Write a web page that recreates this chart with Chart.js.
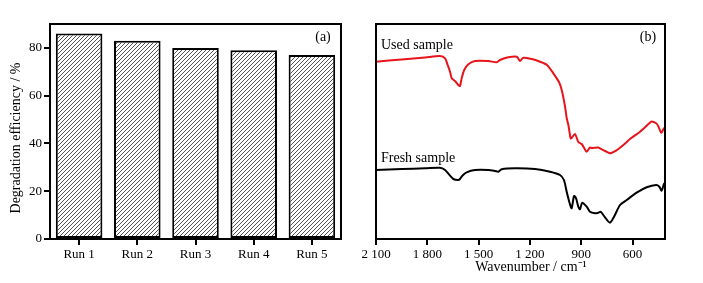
<!DOCTYPE html>
<html>
<head>
<meta charset="utf-8">
<script src="https://cdn.jsdelivr.net/npm/chart.js@4/dist/chart.umd.min.js"></script>
<style>
  html, body { margin: 0; padding: 0; background: #fff; }
  #wrap { position: relative; width: 703px; height: 283px; overflow: hidden; }
  #c1 { position: absolute; left: 0; top: 0; }
  #c2 { position: absolute; left: 350px; top: 0; }
</style>
</head>
<body>
<div id="wrap">
  <canvas id="c1" width="350" height="283"></canvas>
  <canvas id="c2" width="353" height="283"></canvas>
</div>
<script>
// ---------- Panel (a) data ----------
const runs = ['Run 1', 'Run 2', 'Run 3', 'Run 4', 'Run 5'];
const efficiency = [86, 83, 80, 79, 77];
const effTicks = [0, 20, 40, 60, 80];

// ---------- Panel (b) data (wavenumber, relative transmittance, a.u.) ----------
const usedWn = [2100, 1950, 1813, 1726, 1696, 1681, 1667, 1657, 1638, 1619, 1609, 1599, 1584, 1560, 1521, 1443, 1394, 1375, 1326, 1277, 1258, 1239, 1189, 1141, 1100, 1063, 1030, 1014, 995, 985, 975, 962, 956, 936, 917, 897, 868, 849, 839, 800, 790, 760, 732, 700, 673, 640, 615, 556, 498, 488, 462, 450, 435, 430, 416, 410];
const usedT  = [177.3, 179.5, 181.5, 183, 180.7, 174, 167.3, 160.7, 158, 154, 153, 160.7, 169, 174.7, 178, 178, 176.7, 179, 181.7, 182.3, 178, 181.3, 180, 177.3, 174, 165.7, 157, 149, 133, 121, 114, 100.7, 101, 105, 97, 95, 87.3, 91.5, 91, 91.5, 90.7, 88, 85.7, 88, 91.2, 96, 100, 107.3, 116.3, 117.5, 115.7, 113, 107, 106.3, 110.7, 111];
const freshWn = [2100, 1950, 1813, 1726, 1696, 1667, 1648, 1619, 1609, 1595, 1570, 1521, 1443, 1404, 1385, 1365, 1287, 1170, 1082, 1024, 1001, 985, 970, 956, 942, 930, 917, 907, 894, 868, 849, 819, 800, 786, 761, 732, 708, 673, 634, 576, 517, 462, 443, 430, 416, 410];
const freshT  = [69, 70, 70.7, 71.3, 69, 63.3, 60, 59, 60, 63.3, 66.7, 69, 69, 68, 67.3, 69.7, 70.7, 70, 67.3, 64, 59, 47.3, 37.3, 30.7, 43, 40.7, 32.3, 29.7, 36.3, 32.3, 27.3, 25.7, 26.3, 27.3, 21.7, 16.3, 22.3, 34, 39, 46.3, 51.7, 54, 52.3, 48.3, 55, 56];
const wnTicks = [2100, 1800, 1500, 1200, 900, 600];

const SERIF = '"Liberation Serif", "Times New Roman", serif';

// hatch pattern
function makeHatch() {
  const s = 4;
  const p = document.createElement('canvas');
  p.width = s; p.height = s;
  const g = p.getContext('2d');
  g.fillStyle = '#fff';
  g.fillRect(0, 0, s, s);
  g.strokeStyle = '#555';
  g.lineWidth = 1;
  g.beginPath();
  g.moveTo(-1, s + 1); g.lineTo(s + 1, -1);
  g.moveTo(-1, 1); g.lineTo(1, -1);
  g.moveTo(s - 1, s + 1); g.lineTo(s + 1, s - 1);
  g.stroke();
  return document.getElementById('c1').getContext('2d').createPattern(p, 'repeat');
}

const framePlugin = {
  id: 'frame',
  afterDraw(chart, args, opts) {
    const { ctx, chartArea: a } = chart;
    ctx.save();
    ctx.strokeStyle = '#000';
    ctx.lineWidth = 2;
    ctx.strokeRect(a.left, a.top, a.right - a.left, a.bottom - a.top);
    ctx.fillStyle = '#000';
    ctx.textBaseline = 'middle';
    (opts.texts || []).forEach(t => {
      ctx.save();
      ctx.font = t.font;
      ctx.textAlign = t.align || 'left';
      ctx.translate(t.x, t.y);
      if (t.rot) ctx.rotate(t.rot);
      ctx.fillText(t.text, 0, 0);
      ctx.restore();
    });
    ctx.restore();
  }
};

// ---------- Chart (a) ----------
new Chart(document.getElementById('c1'), {
  type: 'bar',
  data: {
    labels: runs,
    datasets: [{
      data: efficiency,
      backgroundColor: makeHatch(),
      borderColor: '#000',
      borderWidth: 2,
      borderSkipped: false,
      barPercentage: 0.8,
      categoryPercentage: 1.0
    }]
  },
  options: {
    responsive: false,
    devicePixelRatio: 1,
    animation: false,
    layout: { padding: { left: 0, top: 24, right: 9, bottom: 0 } },
    plugins: {
      legend: { display: false },
      tooltip: { enabled: false },
      frame: {
        texts: [
          { text: '(a)', x: 323, y: 37, font: '14px ' + SERIF, align: 'center' },
          { text: 'Degradation efficiency / %', x: 16, y: 138, font: '14px ' + SERIF, align: 'center', rot: -Math.PI / 2 }
        ]
      }
    },
    scales: {
      x: {
        grid: { display: true, drawOnChartArea: false, offset: false, color: '#000', lineWidth: 2, tickLength: 6 },
        border: { display: true, color: '#000', width: 2 },
        ticks: { color: '#000', font: { family: SERIF, size: 13 }, padding: 2 },
        afterFit(s) { s.height = 44; }
      },
      y: {
        min: 0, max: 90,
        afterBuildTicks(s) { s.ticks = effTicks.map(v => ({ value: v })); },
        grid: { display: true, drawOnChartArea: false, color: '#000', lineWidth: 2, tickLength: 6 },
        border: { display: true, color: '#000', width: 2 },
        ticks: { color: '#000', font: { family: SERIF, size: 13 }, padding: 2 },
        afterFit(s) { s.width = 50; }
      }
    }
  },
  plugins: [framePlugin]
});

// ---------- Chart (b) ----------
const toPts = (xs, ys) => xs.map((x, i) => ({ x: x, y: ys[i] }));
new Chart(document.getElementById('c2'), {
  type: 'line',
  data: {
    datasets: [
      { label: 'Used sample', data: toPts(usedWn, usedT), borderColor: '#e8141b', borderWidth: 2, pointRadius: 0, tension: 0.25, fill: false },
      { label: 'Fresh sample', data: toPts(freshWn, freshT), borderColor: '#000', borderWidth: 2, pointRadius: 0, tension: 0.25, fill: false }
    ]
  },
  options: {
    responsive: false,
    devicePixelRatio: 1,
    animation: false,
    layout: { padding: { left: 26, top: 24, right: 38, bottom: 0 } },
    plugins: {
      legend: { display: false },
      tooltip: { enabled: false },
      frame: {
        texts: [
          { text: '(b)', x: 298, y: 37, font: '14px ' + SERIF, align: 'center' },
          { text: 'Used sample', x: 31, y: 45, font: '14px ' + SERIF, align: 'left' },
          { text: 'Fresh sample', x: 31, y: 158, font: '14px ' + SERIF, align: 'left' },
          { text: 'Wavenumber / cm\u207B\u00B9', x: 181, y: 267, font: '14px ' + SERIF, align: 'center' }
        ]
      }
    },
    scales: {
      x: {
        type: 'linear',
        reverse: true,
        min: 410, max: 2100,
        afterBuildTicks(s) { s.ticks = wnTicks.map(v => ({ value: v })); },
        grid: { display: true, drawOnChartArea: false, color: '#000', lineWidth: 2, tickLength: 6 },
        border: { display: true, color: '#000', width: 2 },
        ticks: {
          color: '#000', font: { family: SERIF, size: 13 }, padding: 2, maxRotation: 0,
          callback: v => String(v).replace(/\B(?=(\d{3})+(?!\d))/g, ' ')
        },
        afterFit(s) { s.height = 44; }
      },
      y: {
        display: false,
        min: 0, max: 215
      }
    }
  },
  plugins: [framePlugin]
});
</script>
</body>
</html>
